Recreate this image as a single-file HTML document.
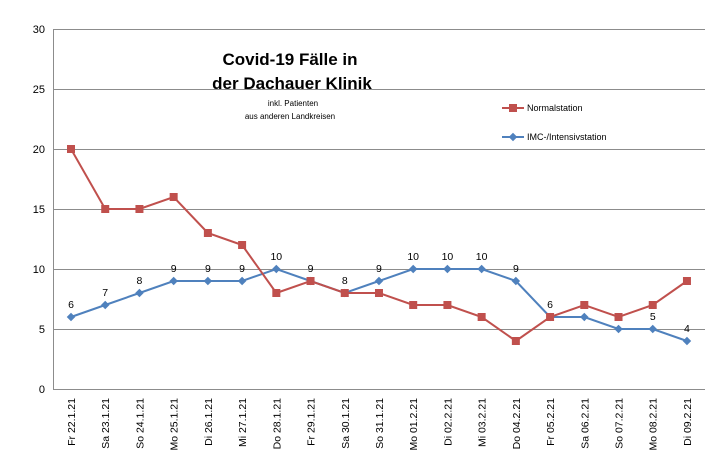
<!DOCTYPE html>
<html><head><meta charset="utf-8"><style>body{margin:0;background:#fff}svg{display:block;font-family:"Liberation Sans",sans-serif}</style></head><body>
<svg width="707" height="459" viewBox="0 0 707 459" xmlns="http://www.w3.org/2000/svg">
<rect width="707" height="459" fill="#fff"/>
<g stroke="#8c8c8c" stroke-width="1">
<line x1="53" y1="29.5" x2="705" y2="29.5"/><line x1="53" y1="89.5" x2="705" y2="89.5"/><line x1="53" y1="149.5" x2="705" y2="149.5"/><line x1="53" y1="209.5" x2="705" y2="209.5"/><line x1="53" y1="269.5" x2="705" y2="269.5"/><line x1="53" y1="329.5" x2="705" y2="329.5"/><line x1="53" y1="389.5" x2="705" y2="389.5"/><line x1="53.5" y1="29" x2="53.5" y2="389"/>
</g>
<g font-size="11" fill="#000" text-anchor="end">
<text x="45" y="33">30</text><text x="45" y="93">25</text><text x="45" y="153">20</text><text x="45" y="213">15</text><text x="45" y="273">10</text><text x="45" y="333">5</text><text x="45" y="393">0</text>
</g>
<g font-size="10.5" fill="#000" text-anchor="end" id="xl"></g>
<text x="290" y="65" font-size="17" font-weight="bold" text-anchor="middle">Covid-19 Fälle in</text>
<text x="292" y="89" font-size="17" font-weight="bold" text-anchor="middle">der Dachauer Klinik</text>
<text x="293" y="106" font-size="8" text-anchor="middle">inkl. Patienten</text>
<text x="290" y="119" font-size="8" text-anchor="middle">aus anderen Landkreisen</text>
<line x1="502" y1="108" x2="524" y2="108" stroke="#c0504d" stroke-width="2"/><rect x="509" y="104" width="8" height="8" fill="#c0504d"/>
<text x="527" y="111" font-size="9">Normalstation</text>
<line x1="502" y1="137" x2="524" y2="137" stroke="#4f81bd" stroke-width="2"/><rect x="510" y="134" width="6" height="6" fill="#4f81bd" transform="rotate(45 513 137)"/>
<text x="527" y="140" font-size="9">IMC-/Intensivstation</text>
<g id="s"></g>
</svg>
<script>
var labels=["Fr 22.1.21","Sa 23.1.21","So 24.1.21","Mo 25.1.21","Di 26.1.21","Mi 27.1.21","Do 28.1.21","Fr 29.1.21","Sa 30.1.21","So 31.1.21","Mo 01.2.21","Di 02.2.21","Mi 03.2.21","Do 04.2.21","Fr 05.2.21","Sa 06.2.21","So 07.2.21","Mo 08.2.21","Di 09.2.21"];
var red=[20,15,15,16,13,12,8,9,8,8,7,7,6,4,6,7,6,7,9];
var blue=[6,7,8,9,9,9,10,9,8,9,10,10,10,9,6,6,5,5,4];
var NS="http://www.w3.org/2000/svg";
function X(i){return 71+i*34.22}function Y(v){return 389-v*12}
function el(t,a,p){var e=document.createElementNS(NS,t);for(var k in a)e.setAttribute(k,a[k]);p.appendChild(e);return e}
var xl=document.getElementById('xl'),s=document.getElementById('s');
labels.forEach(function(l,i){var t=el('text',{x:0,y:0,transform:'translate('+(X(i)+4)+',398) rotate(-90)'},xl);t.textContent=l;});
el('polyline',{points:blue.map(function(v,i){return X(i)+','+Y(v)}).join(' '),fill:'none',stroke:'#4f81bd','stroke-width':2},s);
el('polyline',{points:red.map(function(v,i){return X(i)+','+Y(v)}).join(' '),fill:'none',stroke:'#c0504d','stroke-width':2},s);
blue.forEach(function(v,i){var x=X(i),y=Y(v);el('rect',{x:x-3,y:y-3,width:6,height:6,fill:'#4f81bd',transform:'rotate(45 '+x+' '+y+')'},s);var t=el('text',{x:x,y:y-9,'font-size':10.5,'text-anchor':'middle'},s);t.textContent=v;});
red.forEach(function(v,i){var x=X(i),y=Y(v);el('rect',{x:x-4,y:y-4,width:8,height:8,fill:'#c0504d'},s);});
</script>
</body></html>
